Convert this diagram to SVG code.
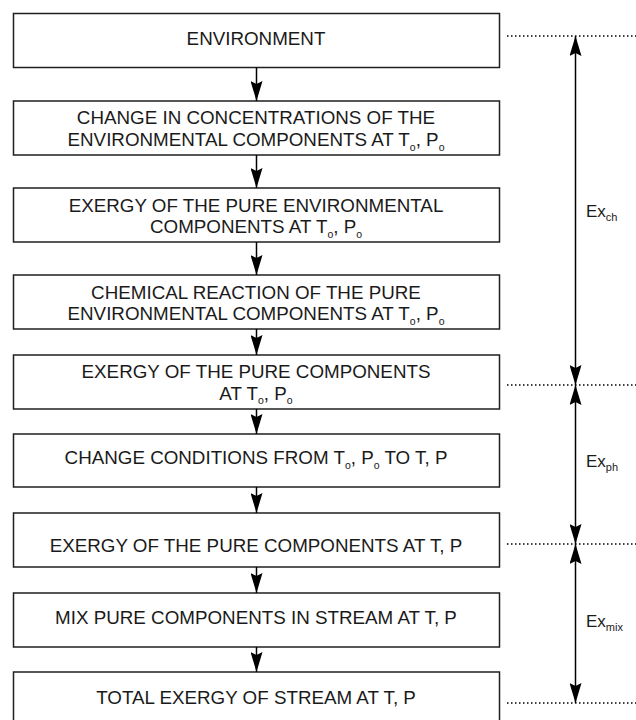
<svg xmlns="http://www.w3.org/2000/svg" width="636" height="720" viewBox="0 0 636 720">
  <style>
    .box { fill: #ffffff; stroke: #1f1f1f; stroke-width: 1.5; }
    .lbl { font-family: "Liberation Sans", Arial, sans-serif; font-size: 18.8px; fill: #1a1a1a; text-anchor: middle; }
    .sub { font-size: 10.5px; }
    .ex { font-family: "Liberation Sans", Arial, sans-serif; font-size: 17px; fill: #1a1a1a; }
    .exs { font-size: 11px; }
    .flow { stroke: #000; stroke-width: 1.5; fill: none; marker-end: url(#head); }
    .dim { stroke: #000; stroke-width: 1.5; fill: none; marker-start: url(#head); marker-end: url(#head); }
    .dot { stroke: #000; stroke-width: 1.5; stroke-dasharray: 1.5 2.5; fill: none; }
  </style>
  <defs>
    <marker id="head" viewBox="0 0 20 12" refX="20" refY="6" markerWidth="20" markerHeight="12" markerUnits="userSpaceOnUse" orient="auto-start-reverse">
      <path d="M0,0 L20,6 L0,12 L3,6 z" fill="#000"/>
    </marker>
  </defs>

  <rect width="636" height="720" fill="#ffffff"/>

  <!-- process steps -->
  <g id="environment">
    <rect class="box" x="13.5" y="13.5" width="486" height="54"/>
    <text class="lbl" x="256" y="44.5">ENVIRONMENT</text>
  </g>
  <g id="change-concentrations">
    <rect class="box" x="13.5" y="101" width="486" height="54"/>
    <text class="lbl" x="256" y="124">CHANGE IN CONCENTRATIONS OF THE</text>
    <text class="lbl" x="256" y="146">ENVIRONMENTAL COMPONENTS AT T<tspan class="sub" dy="4.5">o</tspan><tspan dy="-4.5">, P</tspan><tspan class="sub" dy="4.5">o</tspan></text>
  </g>
  <g id="exergy-pure-env">
    <rect class="box" x="13.5" y="188" width="486" height="54"/>
    <text class="lbl" x="256" y="211.5">EXERGY OF THE PURE ENVIRONMENTAL</text>
    <text class="lbl" x="256" y="233">COMPONENTS AT T<tspan class="sub" dy="4.5">o</tspan><tspan dy="-4.5">, P</tspan><tspan class="sub" dy="4.5">o</tspan></text>
  </g>
  <g id="chemical-reaction">
    <rect class="box" x="13.5" y="275" width="486" height="54"/>
    <text class="lbl" x="256" y="298.5">CHEMICAL REACTION OF THE PURE</text>
    <text class="lbl" x="256" y="320">ENVIRONMENTAL COMPONENTS AT T<tspan class="sub" dy="4.5">o</tspan><tspan dy="-4.5">, P</tspan><tspan class="sub" dy="4.5">o</tspan></text>
  </g>
  <g id="exergy-pure-components">
    <rect class="box" x="13.5" y="355" width="486" height="54"/>
    <text class="lbl" x="256" y="378">EXERGY OF THE PURE COMPONENTS</text>
    <text class="lbl" x="256" y="399.5">AT T<tspan class="sub" dy="4.5">o</tspan><tspan dy="-4.5">, P</tspan><tspan class="sub" dy="4.5">o</tspan></text>
  </g>
  <g id="change-conditions">
    <rect class="box" x="13.5" y="434" width="486" height="53"/>
    <text class="lbl" x="256" y="464">CHANGE CONDITIONS FROM T<tspan class="sub" dy="4.5">o</tspan><tspan dy="-4.5">, P</tspan><tspan class="sub" dy="4.5">o</tspan><tspan dy="-4.5"> TO T, P</tspan></text>
  </g>
  <g id="exergy-at-tp">
    <rect class="box" x="13.5" y="513" width="486" height="54"/>
    <text class="lbl" x="256" y="552">EXERGY OF THE PURE COMPONENTS AT T, P</text>
  </g>
  <g id="mix">
    <rect class="box" x="13.5" y="593" width="486" height="54"/>
    <text class="lbl" x="256" y="623.5">MIX PURE COMPONENTS IN STREAM AT T, P</text>
  </g>
  <g id="total-exergy">
    <rect class="box" x="13.5" y="672" width="486" height="60"/>
    <text class="lbl" x="256" y="703.5">TOTAL EXERGY OF STREAM AT T, P</text>
  </g>

  <!-- connectors -->
  <g id="connectors">
    <line class="flow" x1="256.5" y1="67.5" x2="256.5" y2="101"/>
    <line class="flow" x1="256.5" y1="155" x2="256.5" y2="188"/>
    <line class="flow" x1="256.5" y1="242" x2="256.5" y2="275"/>
    <line class="flow" x1="256.5" y1="329" x2="256.5" y2="355"/>
    <line class="flow" x1="256.5" y1="409" x2="256.5" y2="434"/>
    <line class="flow" x1="256.5" y1="487" x2="256.5" y2="513"/>
    <line class="flow" x1="256.5" y1="567" x2="256.5" y2="593"/>
    <line class="flow" x1="256.5" y1="647" x2="256.5" y2="672"/>
  </g>

  <!-- exergy span markers -->
  <g id="spans">
    <line class="dot" x1="507" y1="36" x2="636" y2="36"/>
    <line class="dot" x1="507" y1="385" x2="636" y2="385"/>
    <line class="dot" x1="507" y1="544" x2="636" y2="544"/>
    <line class="dot" x1="507" y1="703" x2="636" y2="703"/>
    <line class="dim" x1="575.5" y1="36" x2="575.5" y2="385"/>
    <line class="dim" x1="575.5" y1="385" x2="575.5" y2="544"/>
    <line class="dim" x1="575.5" y1="544" x2="575.5" y2="703"/>
    <text class="ex" x="586" y="217">Ex<tspan class="exs" dy="4">ch</tspan></text>
    <text class="ex" x="586" y="467">Ex<tspan class="exs" dy="4">ph</tspan></text>
    <text class="ex" x="586" y="627">Ex<tspan class="exs" dy="4">mix</tspan></text>
  </g>
</svg>
